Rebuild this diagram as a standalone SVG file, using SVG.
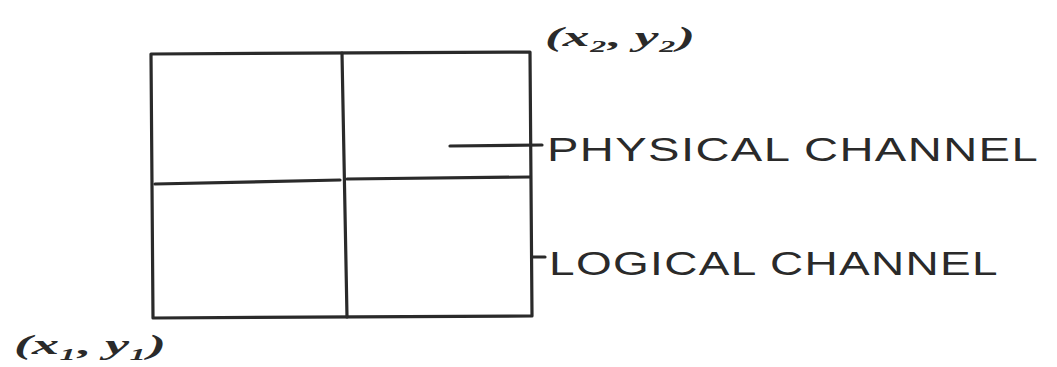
<svg xmlns="http://www.w3.org/2000/svg" width="1057" height="367" viewBox="0 0 1057 367">
<style>
.ln{stroke:#2a2a2a;stroke-width:3.2;fill:none;stroke-linecap:round;stroke-linejoin:round}
.lbl{font-family:"Liberation Sans",Arial,sans-serif;font-size:34px;fill:#2a2a2a;letter-spacing:1px}
.crd{font-family:"Liberation Serif","Times New Roman",serif;font-style:italic;font-weight:bold;font-size:28px;fill:#2a2a2a}
</style>
<rect width="1057" height="367" fill="#ffffff"/>
<g id="grid">
<path class="ln" d="M151,54 L530,52 L532,316 L153,318 Z"/>
<path class="ln" d="M342,53 L347,317"/>
<path class="ln" d="M155,184 L340,180 M347,179 L530,177"/>
</g>
<g id="corner-top">
<text class="crd" x="545" y="46" textLength="150" lengthAdjust="spacingAndGlyphs">(x₂, y₂)</text>
</g>
<g id="corner-bottom">
<text class="crd" x="14" y="354" textLength="152" lengthAdjust="spacingAndGlyphs">(x₁, y₁)</text>
</g>
<g id="connectors">
<path class="ln" d="M450,146 L542,145"/>
<path class="ln" d="M532,257 L545,257"/>
</g>
<g id="physical-label">
<text class="lbl" x="547" y="161" textLength="492" lengthAdjust="spacingAndGlyphs">PHYSICAL CHANNEL</text>
</g>
<g id="logical-label">
<text class="lbl" x="549" y="275" textLength="450" lengthAdjust="spacingAndGlyphs">LOGICAL CHANNEL</text>
</g>
</svg>
